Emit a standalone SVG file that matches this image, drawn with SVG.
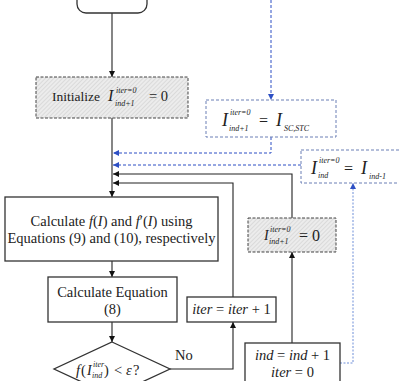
<svg xmlns="http://www.w3.org/2000/svg" width="399" height="381" viewBox="0 0 399 381">
<defs>
<pattern id="hatch" patternUnits="userSpaceOnUse" width="3" height="3" patternTransform="rotate(45)">
<rect width="3" height="3" fill="#ececec"/>
<line x1="0" y1="0" x2="0" y2="3" stroke="#b8b8b8" stroke-width="0.7"/>
</pattern>
<marker id="ab" markerUnits="userSpaceOnUse" markerWidth="7" markerHeight="6" refX="6" refY="3" orient="auto">
<path d="M0,0 L6,3 L0,6 Z" fill="#111"/>
</marker>
<marker id="au" markerUnits="userSpaceOnUse" markerWidth="7" markerHeight="6" refX="6" refY="3" orient="auto">
<path d="M0,0 L6,3 L0,6 Z" fill="#2d4fc4"/>
</marker>
</defs>
<style>
text{font-family:"Liberation Serif","Times New Roman",serif;fill:#222;}
.t{font-size:14.5px;}
.i{font-style:italic;}
.s{font-size:8px;font-style:italic;}
.box{fill:#fff;stroke:#333;stroke-width:1.3;}
.hb{fill:url(#hatch);stroke:#444;stroke-width:1;stroke-dasharray:3 1.5;}
.bb{fill:#fff;stroke:#6a7fb5;stroke-width:1;stroke-dasharray:3 2;}
.k{fill:none;stroke:#222;stroke-width:1.1;}
.bl{fill:none;stroke:#2d4fc4;stroke-width:1;stroke-dasharray:3 2;}
.bd{fill:none;stroke:#6f8fd8;stroke-width:1;stroke-dasharray:2 1.5;}
</style>

<g id="connectors">
<line class="k" x1="112" y1="13" x2="112" y2="77" marker-end="url(#ab)"/>
<line class="k" x1="112" y1="118" x2="112" y2="197" marker-end="url(#ab)"/>
<line class="k" x1="112" y1="261" x2="112" y2="277" marker-end="url(#ab)"/>
<line class="k" x1="112" y1="322" x2="112" y2="342" marker-end="url(#ab)"/>
<polyline class="k" points="170,369 233,369 233,322" marker-end="url(#ab)"/>
<polyline class="k" points="233,297 233,183 113,183" marker-end="url(#ab)"/>
<line class="k" x1="292" y1="343" x2="292" y2="252" marker-end="url(#ab)"/>
<polyline class="k" points="292,218 292,174 113,174" marker-end="url(#ab)"/>
<line class="bl" x1="271" y1="0" x2="271" y2="100" marker-end="url(#au)"/>
<polyline class="bl" points="271,137 271,153 113,153" marker-end="url(#au)"/>
<line class="bl" x1="301" y1="165" x2="113" y2="165" marker-end="url(#au)"/>
<polyline class="bd" points="340,363 353,363 353,183" marker-end="url(#au)"/>
</g>

<g id="start">
<rect class="box" x="77" y="-30" width="70" height="43" rx="9"/>
</g>

<g id="init">
<rect class="hb" x="36" y="77" width="152" height="41"/>
<text x="52" y="101" font-size="13.5">Initialize</text>
<text class="i" x="108" y="101" font-size="16">I</text>
<text class="s" x="116" y="93">iter=0</text>
<text class="s" x="115" y="106">ind+1</text>
<text class="t" x="149" y="101">= 0</text>
</g>

<g id="init-sc">
<rect class="bb" x="206" y="100" width="130" height="37"/>
<text class="i" x="222" y="126" font-size="18">I</text>
<text class="s" x="230" y="115" font-size="9">iter=0</text>
<text class="s" x="229" y="131" font-size="9">ind+1</text>
<text x="259" y="126" font-size="16">=</text>
<text class="i" x="276" y="126" font-size="18">I</text>
<text class="s" x="284" y="131" font-size="9">SC,STC</text>
</g>

<g id="init-prev">
<rect class="bb" x="301" y="150" width="104" height="33"/>
<text class="i" x="311" y="174" font-size="18">I</text>
<text class="s" x="319" y="163" font-size="9">iter=0</text>
<text class="s" x="318" y="178" font-size="9">ind</text>
<text x="344" y="174" font-size="16">=</text>
<text class="i" x="361" y="174" font-size="18">I</text>
<text class="s" x="369" y="179" font-size="9">ind-1</text>
</g>

<g id="calc-f">
<rect class="box" x="5" y="197" width="213" height="64"/>
<text class="t" x="111.5" y="226" text-anchor="middle">Calculate <tspan class="i">f</tspan>(<tspan class="i">I</tspan>) and <tspan class="i">f</tspan>′(<tspan class="i">I</tspan>) using</text>
<text class="t" x="111.5" y="243" text-anchor="middle">Equations (9) and (10), respectively</text>
</g>

<g id="calc-eq">
<rect class="box" x="48" y="277" width="129" height="45"/>
<text class="t" x="112.5" y="297" text-anchor="middle">Calculate Equation</text>
<text class="t" x="112.5" y="314" text-anchor="middle">(8)</text>
</g>

<g id="decision">
<path class="box" d="M112,342 L170,369 L112,396 L54,369 Z"/>
<text class="t i" x="76" y="375">f</text>
<text class="t" x="81" y="375">(</text>
<text class="i" x="87" y="375" font-size="14">I</text>
<text class="s" x="93" y="367" font-size="7">iter</text>
<text class="s" x="92" y="378" font-size="7">ind</text>
<text class="t" x="104" y="375">)</text>
<text class="t" x="114" y="375">&lt;</text>
<text class="t i" x="126" y="375">ε</text>
<text class="t" x="133" y="375">?</text>
<text class="t" x="175" y="360">No</text>
</g>

<g id="iter-inc">
<rect class="box" x="187" y="297" width="89" height="25"/>
<text class="t" x="231.5" y="314" text-anchor="middle"><tspan class="i">iter</tspan> = <tspan class="i">iter</tspan> + 1</text>
</g>

<g id="reset">
<rect class="hb" x="248" y="218" width="88" height="34"/>
<text class="i" x="264" y="240" font-size="14">I</text>
<text class="s" x="270" y="232" font-size="7">iter=0</text>
<text class="s" x="269" y="244" font-size="7">ind+1</text>
<text x="299" y="241" font-size="16">= 0</text>
</g>

<g id="ind-inc">
<rect class="box" x="245" y="343" width="95" height="48"/>
<text class="t" x="292.5" y="360" text-anchor="middle"><tspan class="i">ind</tspan> = <tspan class="i">ind</tspan> + 1</text>
<text class="t" x="292.5" y="377" text-anchor="middle"><tspan class="i">iter</tspan> = 0</text>
</g>
</svg>
